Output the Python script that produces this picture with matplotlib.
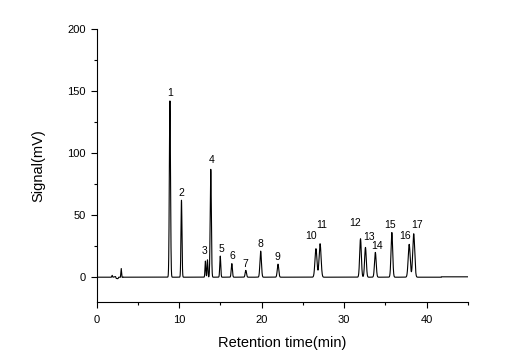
import numpy as np
import matplotlib.pyplot as plt
from matplotlib.ticker import MultipleLocator

plt.rcParams['font.family'] = ['Liberation Sans', 'DejaVu Sans']

# peak table
peak_rt = [8.9, 10.3, 13.2, 13.45, 13.85, 15.0, 16.4, 18.1, 19.9, 22.0,
           26.6, 27.1, 32.0, 32.6, 33.8, 35.8, 37.9, 38.45]
peak_height = [142, 62, 13, 14, 87, 17, 11, 5.5, 21, 10.5,
               23, 27, 31, 24, 20, 36, 26.5, 35]
peak_width = [0.07, 0.06, 0.05, 0.05, 0.07, 0.06, 0.07, 0.08, 0.09, 0.09,
              0.12, 0.12, 0.1, 0.1, 0.1, 0.1, 0.12, 0.12]

# labels: text, x (min), y (mV)
label_text = ['1', '2', '3', '4', '5', '6', '7', '8', '9',
              '10', '11', '12', '13', '14', '15', '16', '17']
label_x = [8.9, 10.3, 13.1, 13.9, 15.1, 16.5, 18.0, 19.9, 21.9,
           26.0, 27.3, 31.4, 33.0, 34.0, 35.6, 37.4, 38.8]
label_y = [144, 64, 17, 90, 19, 13, 7, 23, 12,
           29, 38, 40, 28, 21, 38, 29, 38]

# early noise near injection
noise_t = [0, 1.8, 1.9, 2.0, 2.3, 2.4, 2.6, 2.7, 2.9, 3.0, 3.1, 3.2]
noise_y = [0, 0, 1.5, 0, 0.5, -1, -1.2, 0, 0, 7, 0, 0]

t = np.linspace(3.2, 45, 6000)
signal = np.zeros_like(t)
for rt, h, w in zip(peak_rt, peak_height, peak_width):
    signal += h * np.exp(-0.5 * ((t - rt) / w) ** 2)
signal[t > 41.8] += 0.3

fig = plt.figure(figsize=(5.18, 3.62), dpi=100)
ax = fig.add_axes([0.1863, 0.1657, 0.7167, 0.7543])
ax.plot(noise_t, noise_y, color='black', lw=0.8)
ax.plot(t, signal, color='black', lw=0.8)

for s, x, y in zip(label_text, label_x, label_y):
    ax.text(x, y, s, fontsize=7.5, ha='center', va='bottom')

ax.set_xlim(0, 45)
ax.set_ylim(-20, 200)
ax.xaxis.set_major_locator(MultipleLocator(10))
ax.xaxis.set_minor_locator(MultipleLocator(5))
ax.yaxis.set_major_locator(MultipleLocator(50))
ax.yaxis.set_minor_locator(MultipleLocator(25))
ax.tick_params(which='major', direction='out', length=4, width=0.8, labelsize=8)
ax.tick_params(which='major', axis='x', pad=5)
ax.tick_params(which='minor', direction='out', length=2.5, width=0.8)
ax.spines['top'].set_visible(False)
ax.spines['right'].set_visible(False)
ax.set_xlabel('Retention time(min)', fontsize=10.5, labelpad=8)
ax.set_ylabel('Signal(mV)', fontsize=10.5, labelpad=16)

fig.savefig('out.png', dpi=100)
plt.close('all')
